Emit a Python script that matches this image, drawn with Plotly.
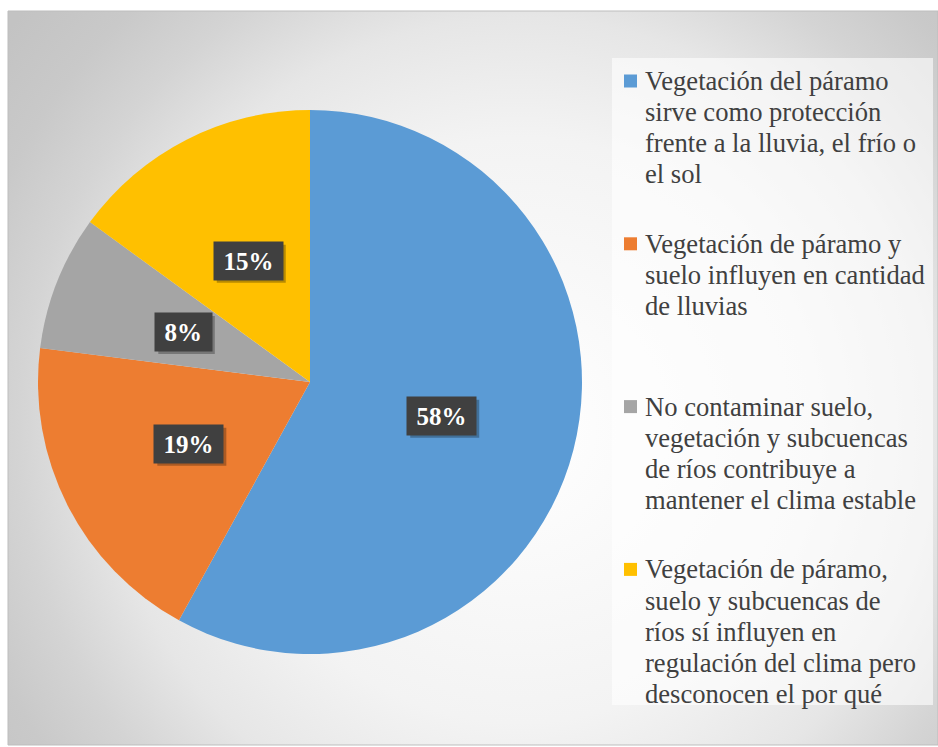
import math
import urllib.parse
import plotly.graph_objects as go

# ---- data ----
labels = [
    "Vegetación del páramo<br>sirve como protección<br>frente a la lluvia, el frío o<br>el sol",
    "Vegetación de páramo y<br>suelo influyen en cantidad<br>de lluvias",
    "No contaminar suelo,<br>vegetación y subcuencas<br>de ríos contribuye a<br>mantener el clima estable",
    "Vegetación de páramo,<br>suelo y subcuencas de<br>ríos sí influyen en<br>regulación del clima pero<br>desconocen el por qué",
]
values = [58, 19, 8, 15]
colors = ["#5B9BD5", "#ED7D31", "#A5A5A5", "#FFC000"]

W, H = 938, 747
SERIF = "Times New Roman, Liberation Serif, Tinos, serif"

# pie geometry in pixels
pcx, pcy, pr = 310, 382, 272
dom_x = [(pcx - pr) / W, (pcx + pr) / W]
dom_y = [1 - (pcy + pr) / H, 1 - (pcy - pr) / H]

fig = go.Figure()
fig.add_trace(go.Pie(
    labels=labels,
    values=values,
    sort=False,
    direction="clockwise",
    rotation=0,
    textinfo="none",
    hoverinfo="label+percent",
    marker=dict(colors=colors, line=dict(width=0)),
    domain=dict(x=dom_x, y=dom_y),
    showlegend=False,
))

# gradient background (svg data uri)
bx0, by0, bx1, by1 = 8, 11, 938, 745
bw, bh = bx1 - bx0, by1 - by0
svg = (
    f'<svg xmlns="http://www.w3.org/2000/svg" width="{bw}" height="{bh}" '
    f'viewBox="0 0 {bw} {bh}" preserveAspectRatio="none">'
    '<defs><radialGradient id="g" gradientUnits="userSpaceOnUse" '
    f'cx="{520 - bx0}" cy="{430 - by0}" r="650">'
    '<stop offset="0" stop-color="#ffffff"/>'
    '<stop offset="0.45" stop-color="#f3f3f3"/>'
    '<stop offset="0.635" stop-color="#e6e6e6"/>'
    '<stop offset="0.77" stop-color="#d4d4d4"/>'
    '<stop offset="0.88" stop-color="#c9c9c9"/>'
    '<stop offset="1" stop-color="#c3c3c3"/>'
    '</radialGradient></defs>'
    f'<rect x="0" y="0" width="{bw}" height="{bh}" fill="url(#g)"/></svg>'
)
src = "data:image/svg+xml;charset=utf-8," + urllib.parse.quote(svg)

fig.add_layout_image(dict(
    source=src, xref="paper", yref="paper",
    x=bx0 / W, y=1 - by0 / H, sizex=bw / W, sizey=bh / H,
    xanchor="left", yanchor="top", sizing="stretch", layer="below",
))

shapes = [
    dict(type="rect", xref="paper", yref="paper",
         x0=bx0 / W, x1=bx1 / W, y0=1 - by1 / H, y1=1 - by0 / H,
         line=dict(color="#bdbdbd", width=1), fillcolor="rgba(0,0,0,0)", layer="below"),
    dict(type="rect", xref="paper", yref="paper",
         x0=612 / W, x1=933 / W, y0=1 - 705 / H, y1=1 - 58 / H,
         line=dict(width=0), fillcolor="rgba(255,255,255,0.6)", layer="below"),
]

annotations = []

# percentage labels in dark boxes, at half radius along each slice's mid-angle
LFS = 25
PAD = 3
total = sum(values)
cum = 0
for v in values:
    mid = (cum + v / 2) / total
    cum += v
    th = 2 * math.pi * mid
    lx = pcx + 0.5 * pr * math.sin(th)
    ly = pcy - 0.5 * pr * math.cos(th)
    txt = f"{round(v / total * 100)}%"
    ndig = len(txt) - 1
    inner_w = (0.5 * ndig + 1.0) * LFS + 13
    inner_h = 32
    box_w, box_h = inner_w + 2 * PAD, inner_h + 2 * PAD
    # drop shadow
    sx, sy = lx + 3, ly + 3
    shapes.append(dict(type="rect", xref="paper", yref="paper", layer="above",
                       x0=(sx - box_w / 2) / W, x1=(sx + box_w / 2) / W,
                       y0=1 - (sy + box_h / 2) / H, y1=1 - (sy - box_h / 2) / H,
                       line=dict(width=0), fillcolor="rgba(0,0,0,0.28)"))
    annotations.append(dict(
        xref="paper", yref="paper", x=lx / W, y=1 - ly / H,
        xanchor="center", yanchor="middle", showarrow=False,
        text=txt, width=inner_w, height=inner_h, borderpad=PAD,
        bgcolor="#404040",
        font=dict(family=SERIF, size=LFS, color="#ffffff", weight="bold"),
    ))

# legend (Excel-style: equal slot per entry, tight line spacing)
leg_text_x = 643
leg_first_y = 81
leg_item_step = 162.8
leg_line_step = 31.1
sym = 13
for i, (lab, col) in enumerate(zip(labels, colors)):
    y0 = leg_first_y + i * leg_item_step
    shapes.append(dict(type="rect", xref="paper", yref="paper",
                       x0=(leg_text_x - 19) / W, x1=(leg_text_x - 19 + sym) / W,
                       y0=1 - (y0 + sym / 2) / H, y1=1 - (y0 - sym / 2) / H,
                       line=dict(width=0), fillcolor=col))
    for j, line in enumerate(lab.split("<br>")):
        yy = y0 + j * leg_line_step
        annotations.append(dict(
            xref="paper", yref="paper", x=leg_text_x / W, y=1 - yy / H,
            xanchor="left", yanchor="middle", showarrow=False, text=line,
            font=dict(family=SERIF, size=26.6, color="#404040"),
        ))

fig.update_layout(
    width=W, height=H,
    margin=dict(l=0, r=0, t=0, b=0),
    paper_bgcolor="#ffffff",
    plot_bgcolor="rgba(0,0,0,0)",
    shapes=shapes,
    annotations=annotations,
    showlegend=False,
)

fig.write_html("out.html", config={"displayModeBar": False})
with open("out.html", encoding="utf-8") as f:
    html = f.read()
html = html.replace("<head>", "<head><style>html,body{margin:0;padding:0;overflow:hidden}</style>", 1)
with open("out.html", "w", encoding="utf-8") as f:
    f.write(html)
